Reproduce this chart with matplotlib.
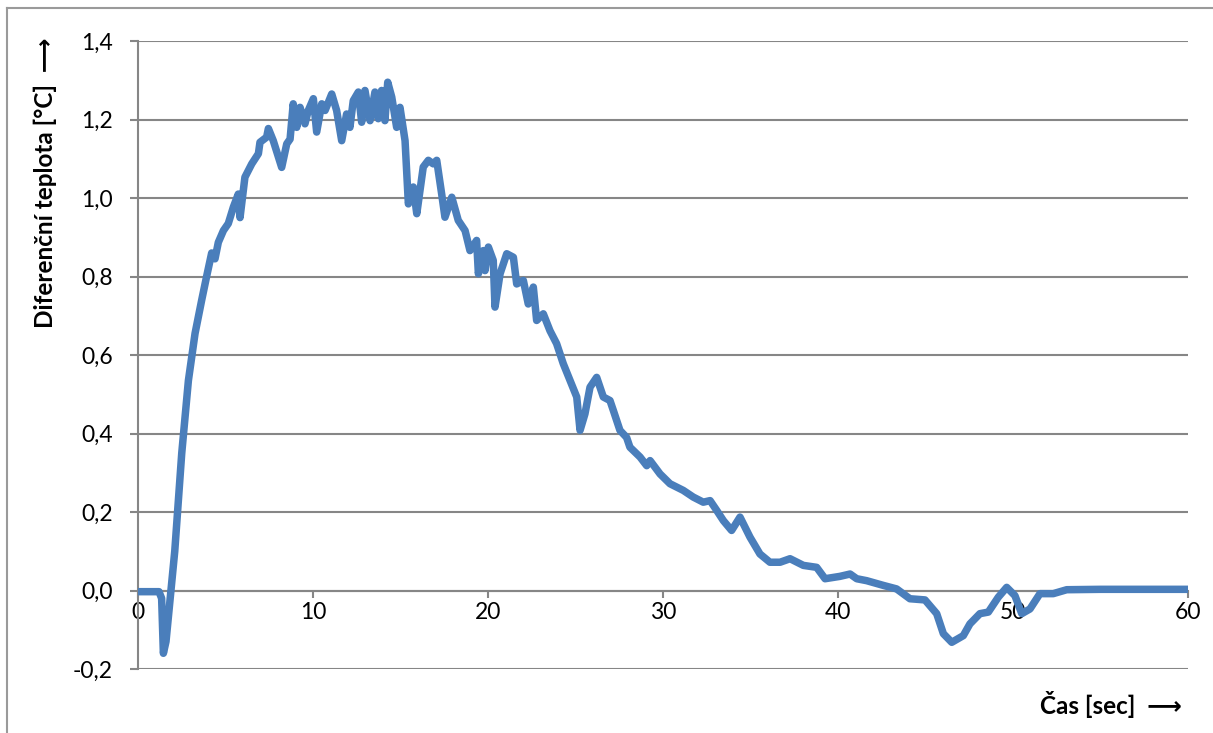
import matplotlib
matplotlib.use("Agg")
import matplotlib.pyplot as plt
from matplotlib.lines import Line2D

# time [s] and differential temperature [°C]
cas = [0.0, 1.2, 1.35, 1.45, 1.6, 2.1, 2.5, 2.88, 3.26, 3.64, 3.92, 4.21, 4.4, 4.59, 4.88,
       5.16, 5.45, 5.73, 5.83, 6.11, 6.5, 6.88, 6.97, 7.35, 7.45, 7.73, 8.21, 8.5, 8.69,
       8.87, 9.07, 9.26, 9.54, 9.73, 10.02, 10.21, 10.5, 10.69, 11.07, 11.35, 11.64, 11.92,
       12.11, 12.3, 12.59, 12.78, 12.97, 13.26, 13.54, 13.73, 13.92, 14.11, 14.27, 14.5,
       14.78, 14.97, 15.26, 15.45, 15.73, 15.93, 16.3, 16.59, 16.87, 17.07, 17.35, 17.54,
       17.93, 18.3, 18.69, 18.97, 19.35, 19.45, 19.73, 19.83, 20.02, 20.3, 20.4, 20.69,
       21.07, 21.45, 21.64, 22.02, 22.3, 22.59, 22.78, 23.16, 23.54, 23.92, 24.3, 24.69,
       25.07, 25.26, 25.54, 25.83, 26.21, 26.59, 26.97, 27.16, 27.54, 27.92, 28.11, 28.69,
       29.07, 29.26, 29.83, 30.4, 31.16, 31.73, 32.3, 32.69, 33.07, 33.45, 33.92, 34.4,
       34.97, 35.54, 36.11, 36.69, 37.26, 38.02, 38.78, 39.26, 40.11, 40.69, 41.07, 41.64,
       42.59, 43.35, 44.11, 44.97, 45.64, 46.02, 46.5, 47.16, 47.54, 48.11, 48.59, 49.16,
       49.64, 50.11, 50.5, 50.97, 51.54, 52.3, 53.07, 55.0, 60.0]
teplota = [-0.003, -0.003, -0.02, -0.16, -0.13, 0.10, 0.35, 0.535, 0.655, 0.74, 0.80, 0.86,
           0.845, 0.887, 0.917, 0.935, 0.977, 1.01, 0.95, 1.053, 1.087, 1.113, 1.142, 1.155,
           1.177, 1.146, 1.078, 1.138, 1.15, 1.24, 1.18, 1.231, 1.189, 1.223, 1.253, 1.168,
           1.24, 1.223, 1.265, 1.223, 1.146, 1.214, 1.18, 1.248, 1.27, 1.193, 1.274, 1.197,
           1.27, 1.202, 1.274, 1.197, 1.295, 1.257, 1.18, 1.231, 1.146, 0.985, 1.028, 0.96,
           1.079, 1.096, 1.087, 1.096, 1.011, 0.951, 1.002, 0.943, 0.917, 0.866, 0.892, 0.807,
           0.866, 0.815, 0.875, 0.841, 0.722, 0.807, 0.858, 0.849, 0.781, 0.79, 0.73, 0.773,
           0.688, 0.705, 0.662, 0.629, 0.578, 0.535, 0.493, 0.408, 0.45, 0.518, 0.543, 0.493,
           0.484, 0.459, 0.408, 0.39, 0.365, 0.34, 0.318, 0.331, 0.297, 0.272, 0.255, 0.238,
           0.225, 0.229, 0.204, 0.178, 0.153, 0.187, 0.136, 0.093, 0.072, 0.072, 0.081, 0.064,
           0.059, 0.030, 0.036, 0.042, 0.030, 0.025, 0.013, 0.004, -0.021, -0.024, -0.059,
           -0.11, -0.132, -0.115, -0.085, -0.059, -0.055, -0.017, 0.008, -0.013, -0.059,
           -0.047, -0.008, -0.008, 0.002, 0.003, 0.003]

x_ticks = [0, 10, 20, 30, 40, 50, 60]
y_ticks = [-0.2, 0.0, 0.2, 0.4, 0.6, 0.8, 1.0, 1.2, 1.4]
y_labels = ['-0,2', '0,0', '0,2', '0,4', '0,6', '0,8', '1,0', '1,2', '1,4']

plt.rcParams['font.family'] = ['Lato', 'DejaVu Sans']
gray = '#868686'

W, H = 1213, 733
fig = plt.figure(figsize=(W / 100, H / 100), dpi=100)
ax = fig.add_axes([138 / W, 1 - 669 / H, (1188 - 138) / W, (669 - 41) / H])

ax.plot(cas, teplota, color='#4A7EBB', lw=5.4, solid_joinstyle='round',
        solid_capstyle='round', zorder=3)

ax.set_xlim(0, 60)
ax.set_ylim(-0.2, 1.4)
ax.set_xticks(x_ticks)
ax.set_yticks(y_ticks)
ax.set_yticklabels(y_labels)
ax.grid(axis='y', color=gray, lw=1.5)
ax.set_axisbelow(True)

for s in ['top', 'right']:
    ax.spines[s].set_visible(False)
ax.spines['bottom'].set_position(('data', 0))
ax.spines['bottom'].set_color(gray)
ax.spines['bottom'].set_linewidth(1.5)
ax.spines['left'].set_color(gray)
ax.spines['left'].set_linewidth(1.5)

ax.tick_params(axis='y', length=6, width=1.5, color=gray, pad=12, labelsize=16.5)
ax.tick_params(axis='x', length=5, width=1.5, color=gray, pad=3, labelsize=16.5)

fig.text(45 / W, 1 - 38 / H, 'Diferenční teplota [°C]  ⟶', rotation=90,
         ha='center', va='top', fontsize=17.5, fontweight='bold')
fig.text(1182 / W, 1 - 704 / H, 'Čas [sec]  ⟶', ha='right', va='center',
         fontsize=17.5, fontweight='bold')

# outer chart frame (left and top edges visible)
fig.add_artist(Line2D([7 / W, 7 / W], [0, 1 - 8 / H], transform=fig.transFigure,
                      color='#9a9a9a', lw=1.5))
fig.add_artist(Line2D([7 / W, 1], [1 - 8 / H, 1 - 8 / H], transform=fig.transFigure,
                      color='#9a9a9a', lw=1.5))

fig.savefig('out.png', dpi=100)
